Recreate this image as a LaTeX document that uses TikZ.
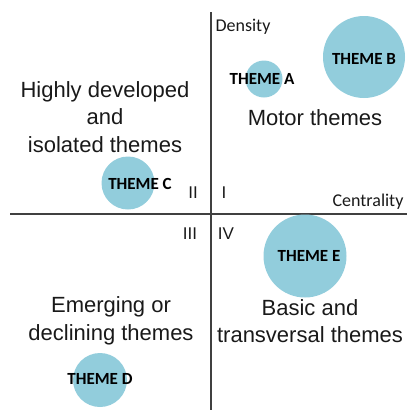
\documentclass[tikz,border=0pt]{standalone}
\usepackage{fontspec}
\setmainfont{Liberation Sans}
\newfontfamily\arialf{Liberation Sans}
\newfontfamily\carl{Carlito}
\definecolor{bubble}{HTML}{92CDDC}
\definecolor{axis}{HTML}{404040}
\begin{document}
\begin{tikzpicture}[x=1pt,y=-1pt,
  bub/.style={circle,fill=bubble,inner sep=0pt,minimum size=#1},
  blab/.style={font=\carl\bfseries\fontsize{17}{20}\selectfont,text=black},
  quad/.style={font=\arialf\fontsize{22}{27.5}\selectfont,align=center,text=black!90},
  roman/.style={font=\arialf\fontsize{17}{20}\selectfont,text=black!90},
  axlab/.style={font=\carl\fontsize{18}{21}\selectfont,text=black!90}]
\useasboundingbox (0,0) rectangle (407,410);
\coordinate (vt) at (211,12);
\coordinate (vb) at (211,410);
\coordinate (hl) at (10,214);
\coordinate (hr) at (407,214);
\draw[axis,line width=1.2pt] (vt) -- (vb);
\draw[axis,line width=1.2pt] (hl) -- (hr);
\node[bub=37pt] (a) at (264,79) {};
\node[blab] (alab) at (262,79) {THEME A};
\node[bub=82pt] (b) at (364,57) {};
\node[blab] (blab) at (364,59) {THEME B};
\node[bub=53pt] (c) at (128,183) {};
\node[blab] (clab) at (140,184) {THEME C};
\node[bub=54pt] (d) at (100,380) {};
\node[blab] (dlab) at (100,379) {THEME D};
\node[bub=83pt] (e) at (305,256) {};
\node[blab] (elab) at (309,256) {THEME E};
\node[quad] (q2) at (105,117) {Highly developed\\and\\isolated themes};
\node[quad] (q1) at (315,118) {Motor themes};
\node[quad] (q3) at (111,321) {Emerging or\\declining themes};
\node[quad] (q4) at (310,321) {Basic and\\transversal themes};
\node[axlab] (dens) at (243,27) {Density};
\node[axlab] (cent) at (368,202) {Centrality};
\node[roman] (r2) at (193,193) {II};
\node[roman] (r1) at (224,193) {I};
\node[roman] (r3) at (190,234) {III};
\node[roman] (r4) at (226,234) {IV};
\end{tikzpicture}
\end{document}
